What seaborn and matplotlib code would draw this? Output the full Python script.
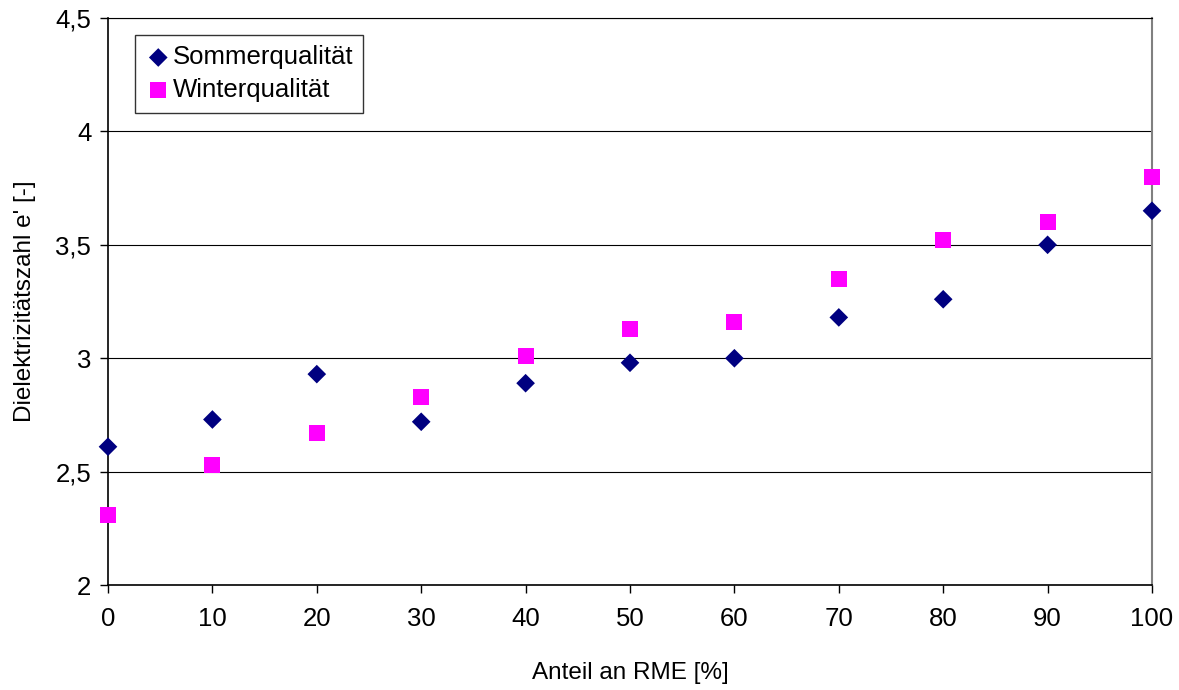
import numpy as np
import pandas as pd
import matplotlib
matplotlib.use("Agg")
import matplotlib.pyplot as plt
import seaborn as sns

anteil = [0, 10, 20, 30, 40, 50, 60, 70, 80, 90, 100]
sommer = [2.61, 2.73, 2.93, 2.72, 2.89, 2.98, 3.00, 3.18, 3.26, 3.50, 3.65]
winter = [2.31, 2.53, 2.67, 2.83, 3.01, 3.13, 3.16, 3.35, 3.52, 3.60, 3.80]
series_names = ["Sommerqualität", "Winterqualität"]
y_ticks = [2, 2.5, 3, 3.5, 4, 4.5]
y_ticklabels = ["2", "2,5", "3", "3,5", "4", "4,5"]
x_ticks = [0, 10, 20, 30, 40, 50, 60, 70, 80, 90, 100]

df = pd.DataFrame({
    "x": anteil + anteil,
    "y": sommer + winter,
    "Serie": [series_names[0]] * len(anteil) + [series_names[1]] * len(anteil),
})

sns.set_style("white")
plt.rcParams["font.family"] = ["Liberation Sans", "DejaVu Sans"]
plt.rcParams["text.color"] = "black"
plt.rcParams["axes.labelcolor"] = "black"
plt.rcParams["xtick.color"] = "black"
plt.rcParams["ytick.color"] = "black"

fig = plt.figure(figsize=(11.79, 6.9), dpi=100)
ax = fig.add_axes([0.0916, 0.152, 0.8855, 0.822])

palette = {series_names[0]: "#000080", series_names[1]: "#FF00FF"}
markers = {series_names[0]: "D", series_names[1]: "s"}
sizes_pt = {series_names[0]: 9.5, series_names[1]: 11.5}

for name in series_names:
    sub = df[df["Serie"] == name]
    sns.scatterplot(data=sub, x="x", y="y", ax=ax, color=palette[name],
                    marker=markers[name], s=sizes_pt[name] ** 2,
                    edgecolor="none", label=name, zorder=3, clip_on=False)

ax.set_xlim(0, 100)
ax.set_ylim(2, 4.5)
ax.set_xticks(x_ticks)
ax.set_xticklabels([str(v) for v in x_ticks])
ax.set_yticks(y_ticks)
ax.set_yticklabels(y_ticklabels)
ax.tick_params(axis="both", labelsize=18.5, direction="out", length=6, width=1,
               color="black", labelcolor="black", bottom=True, left=True)
ax.tick_params(axis="x", pad=10)
ax.tick_params(axis="y", pad=6)

ax.yaxis.grid(True, color="black", linewidth=0.8)
ax.set_axisbelow(True)
for side in ["left", "bottom"]:
    ax.spines[side].set_color("black")
    ax.spines[side].set_linewidth(1.2)
ax.spines["top"].set_color("black")
ax.spines["top"].set_linewidth(0.8)
ax.spines["right"].set_color("#808080")
ax.spines["right"].set_linewidth(1.5)

ax.set_xlabel("Anteil an RME [%]", fontsize=17.5, labelpad=22, color="black")
ax.set_ylabel("Dielektrizitätszahl e' [-]", fontsize=17.5, labelpad=14, color="black")

leg = ax.legend(loc="upper left", bbox_to_anchor=(0.026, 0.97), fontsize=18.5,
                frameon=True, fancybox=False, edgecolor="black",
                handletextpad=0.05, borderpad=0.4, labelspacing=0.35,
                handlelength=1.0, borderaxespad=0)
leg.get_frame().set_linewidth(1.0)
for t in leg.get_texts():
    t.set_color("black")

fig.savefig("out.png", dpi=100)
